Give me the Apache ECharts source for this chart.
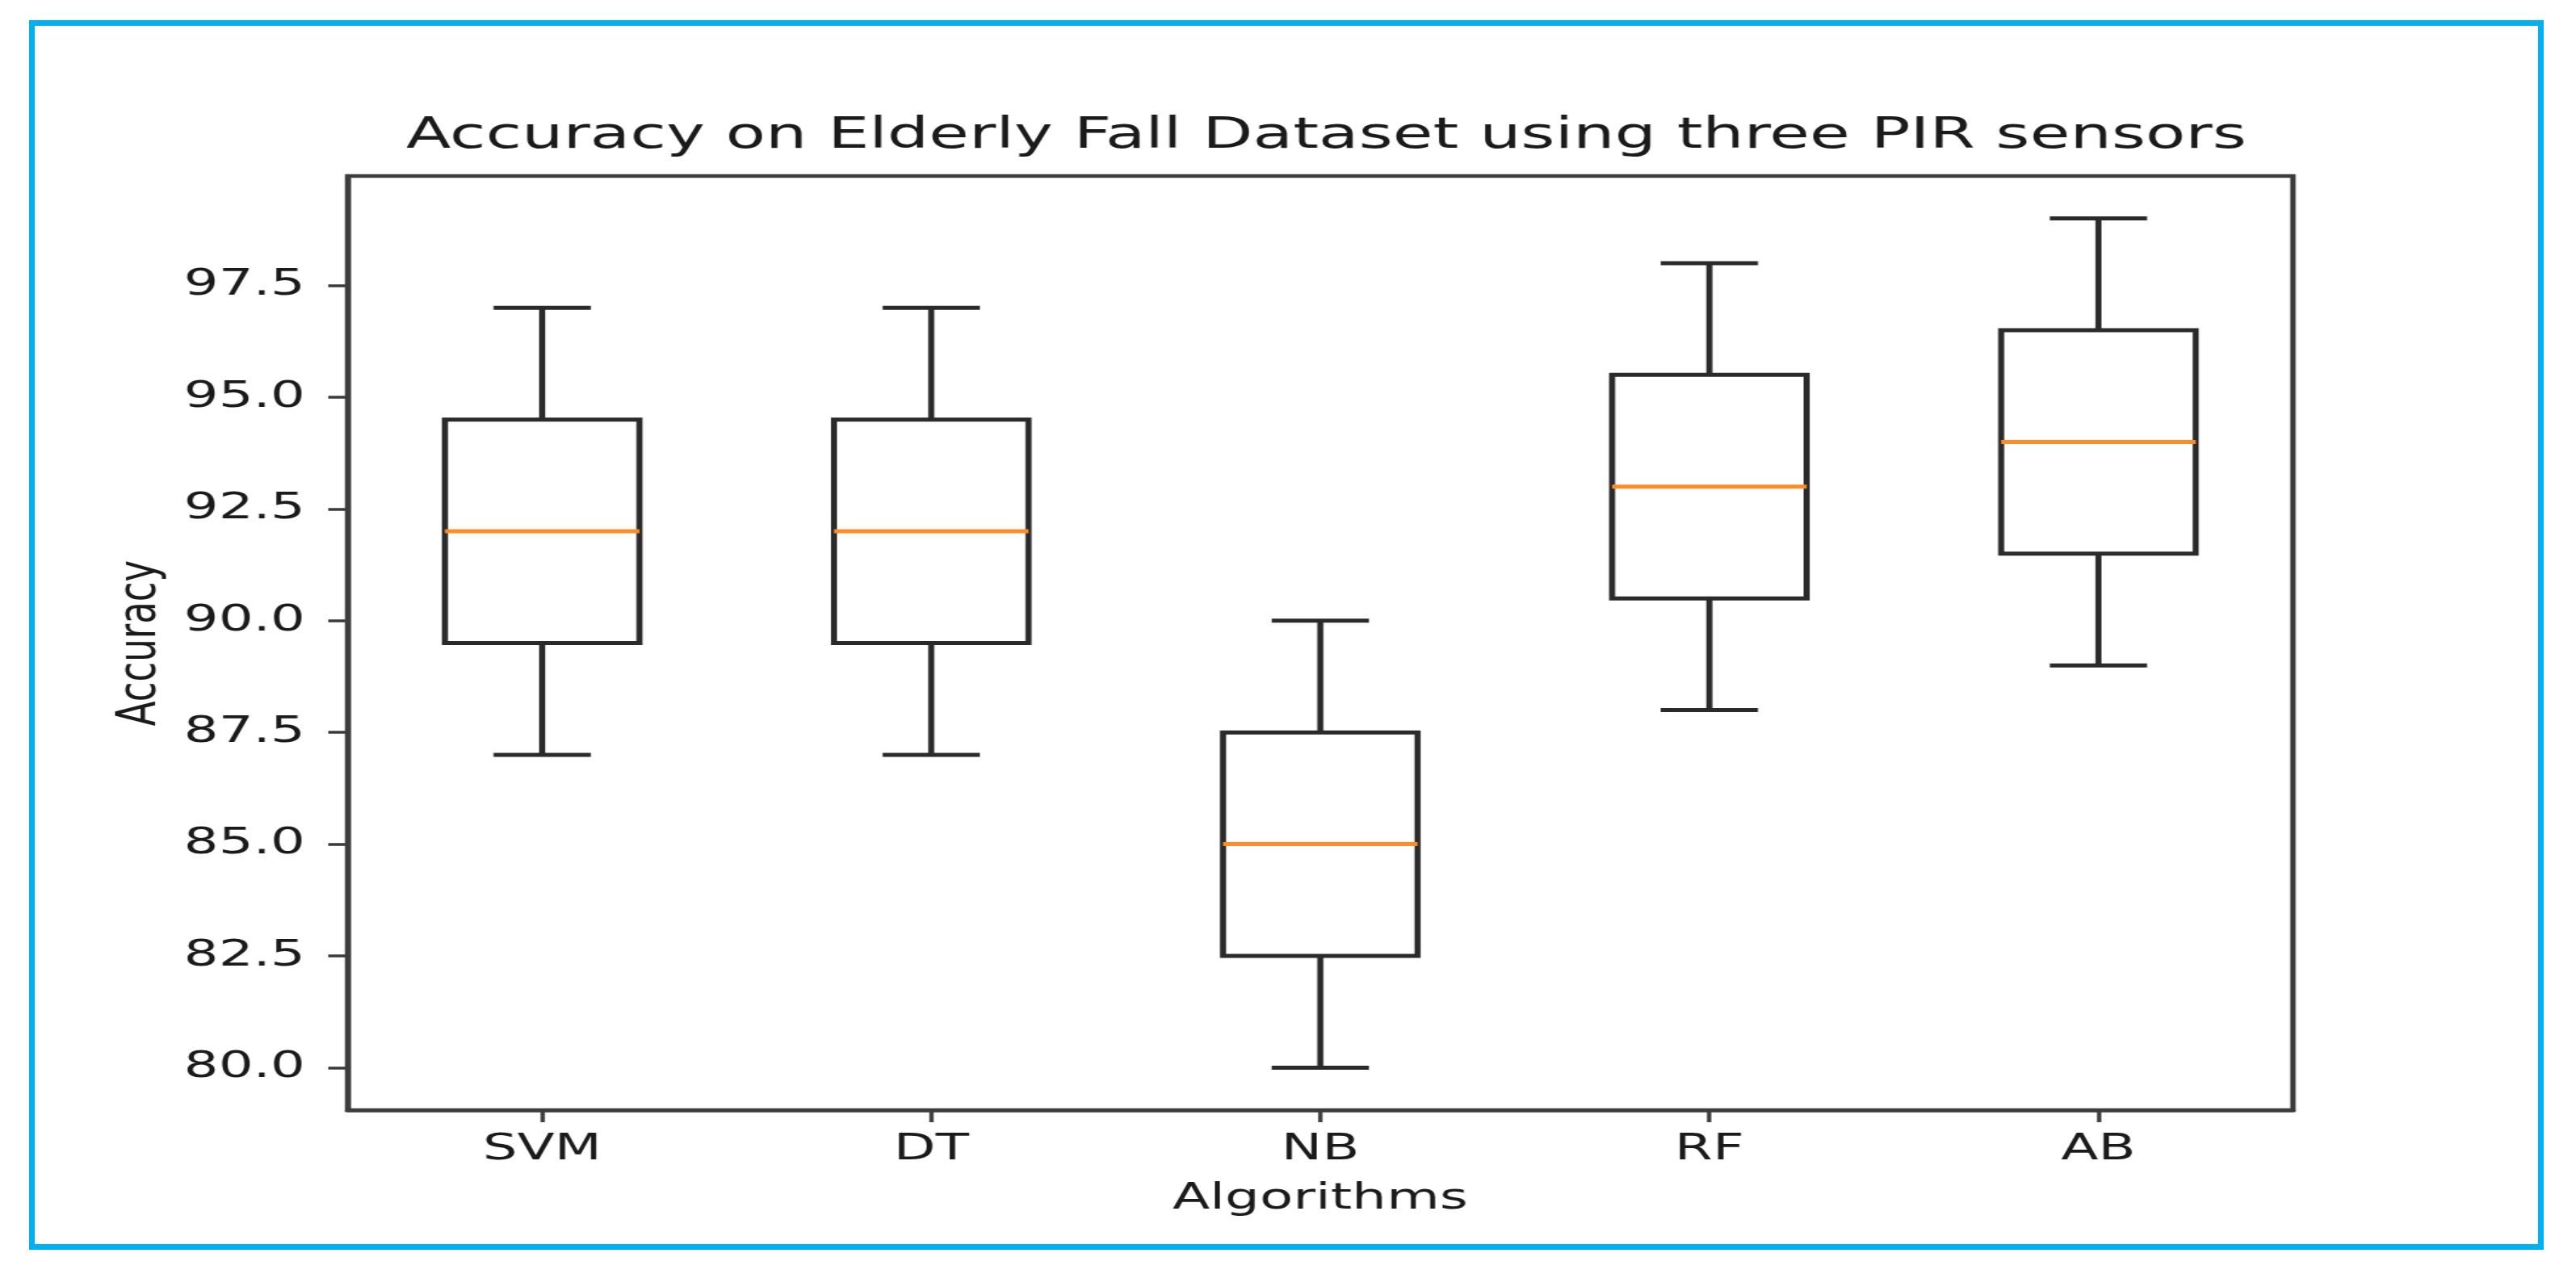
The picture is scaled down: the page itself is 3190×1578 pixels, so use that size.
<!DOCTYPE html>
<html>
<head>
<meta charset="utf-8">
<script src="https://cdn.jsdelivr.net/npm/echarts@6/dist/echarts.min.js"></script>
<style>
html, body { margin: 0; padding: 0; background: #ffffff; overflow: hidden; width: 3190px; height: 1578px; }
#chart { position: absolute; left: 0; top: 0; width: 2127px; height: 1578px; transform: scaleX(1.5); transform-origin: 0 0; }
#frame { position: absolute; left: 36px; top: 25px; width: 3114px; height: 1523px; border: 7px solid #00b0f0; box-sizing: border-box; pointer-events: none; }
</style>
</head>
<body>
<div id="chart"></div>
<div id="frame"></div>
<script>
// ---- data ----
const categories = ['SVM', 'DT', 'NB', 'RF', 'AB'];
const whiskerLow  = [87.0, 87.0, 80.0, 88.0, 89.0];
const q1          = [89.5, 89.5, 82.5, 90.5, 91.5];
const median      = [92.0, 92.0, 85.0, 93.0, 94.0];
const q3          = [94.5, 94.5, 87.5, 95.5, 96.5];
const whiskerHigh = [97.0, 97.0, 90.0, 98.0, 99.0];
const yTicks = [80.0, 82.5, 85.0, 87.5, 90.0, 92.5, 95.0, 97.5];
const titleText = 'Accuracy on Elderly Fall Dataset using three PIR sensors';
const xName = 'Algorithms';
const yName = 'Accuracy';

// ---- build ----
const boxData = categories.map((c, i) => [i, whiskerLow[i], q1[i], median[i], q3[i], whiskerHigh[i]]);
const FONT = 'DejaVu Sans';
const LINE = '#2a2a2a';
const FRAME = '#3c3c3c';
const ORANGE = '#ff8c24';

const chart = echarts.init(document.getElementById('chart'));
chart.setOption({
  animation: false,
  backgroundColor: '#ffffff',
  title: {
    text: titleText,
    left: 1090,
    top: 137,
    textAlign: 'center',
    textStyle: { fontFamily: FONT, fontSize: 54, fontWeight: 'normal', color: '#1a1a1a' }
  },
  grid: {
    left: 287, right: 234, top: 218, bottom: 203,
    show: true, borderColor: FRAME, borderWidth: 4.5, backgroundColor: 'transparent'
  },
  xAxis: {
    type: 'category',
    data: categories,
    boundaryGap: true,
    name: xName,
    nameLocation: 'middle',
    nameGap: 88,
    nameTextStyle: { fontFamily: FONT, fontSize: 45, color: '#1a1a1a' },
    axisLine: { show: true, lineStyle: { color: FRAME, width: 4.5 } },
    axisTick: { show: true, alignWithLabel: true, length: 15, lineStyle: { color: FRAME, width: 3.5 } },
    axisLabel: { fontFamily: FONT, fontSize: 45, color: '#1a1a1a', margin: 27 },
    splitLine: { show: false }
  },
  yAxis: {
    type: 'value',
    min: 79.05,
    max: 99.95,
    name: yName,
    nameLocation: 'middle',
    nameGap: 148,
    nameTextStyle: { fontFamily: FONT, fontSize: 45, color: '#1a1a1a' },
    axisLine: { show: true, lineStyle: { color: FRAME, width: 4.5 } },
    axisTick: { show: true, length: 16, customValues: yTicks, lineStyle: { color: FRAME, width: 3.5 } },
    axisLabel: {
      fontFamily: FONT, fontSize: 45, color: '#1a1a1a', margin: 35,
      customValues: yTicks,
      formatter: v => Number(v).toFixed(1)
    },
    splitLine: { show: false }
  },
  series: [{
    type: 'custom',
    data: boxData,
    encode: { x: 0, y: [1, 2, 3, 4, 5] },
    renderItem: function (params, api) {
      const idx = api.value(0);
      const pLo = api.coord([idx, api.value(1)]);
      const pQ1 = api.coord([idx, api.value(2)]);
      const pMed = api.coord([idx, api.value(3)]);
      const pQ3 = api.coord([idx, api.value(4)]);
      const pHi = api.coord([idx, api.value(5)]);
      const band = api.size([1, 0])[0];
      const bw = band * 0.5;
      const cw = band * 0.25;
      const cx = pLo[0];
      const st = { stroke: LINE, lineWidth: 5, fill: null };
      return {
        type: 'group',
        children: [
          { type: 'line', shape: { x1: cx, y1: pHi[1], x2: cx, y2: pQ3[1] }, style: st },
          { type: 'line', shape: { x1: cx, y1: pQ1[1], x2: cx, y2: pLo[1] }, style: st },
          { type: 'line', shape: { x1: cx - cw / 2, y1: pHi[1], x2: cx + cw / 2, y2: pHi[1] }, style: st },
          { type: 'line', shape: { x1: cx - cw / 2, y1: pLo[1], x2: cx + cw / 2, y2: pLo[1] }, style: st },
          { type: 'rect', shape: { x: cx - bw / 2, y: pQ3[1], width: bw, height: pQ1[1] - pQ3[1] }, style: { stroke: LINE, lineWidth: 5, fill: 'rgba(0,0,0,0)' } },
          { type: 'line', shape: { x1: cx - bw / 2, y1: pMed[1], x2: cx + bw / 2, y2: pMed[1] }, style: { stroke: ORANGE, lineWidth: 5 } }
        ]
      };
    }
  }]
});
</script>
</body>
</html>
